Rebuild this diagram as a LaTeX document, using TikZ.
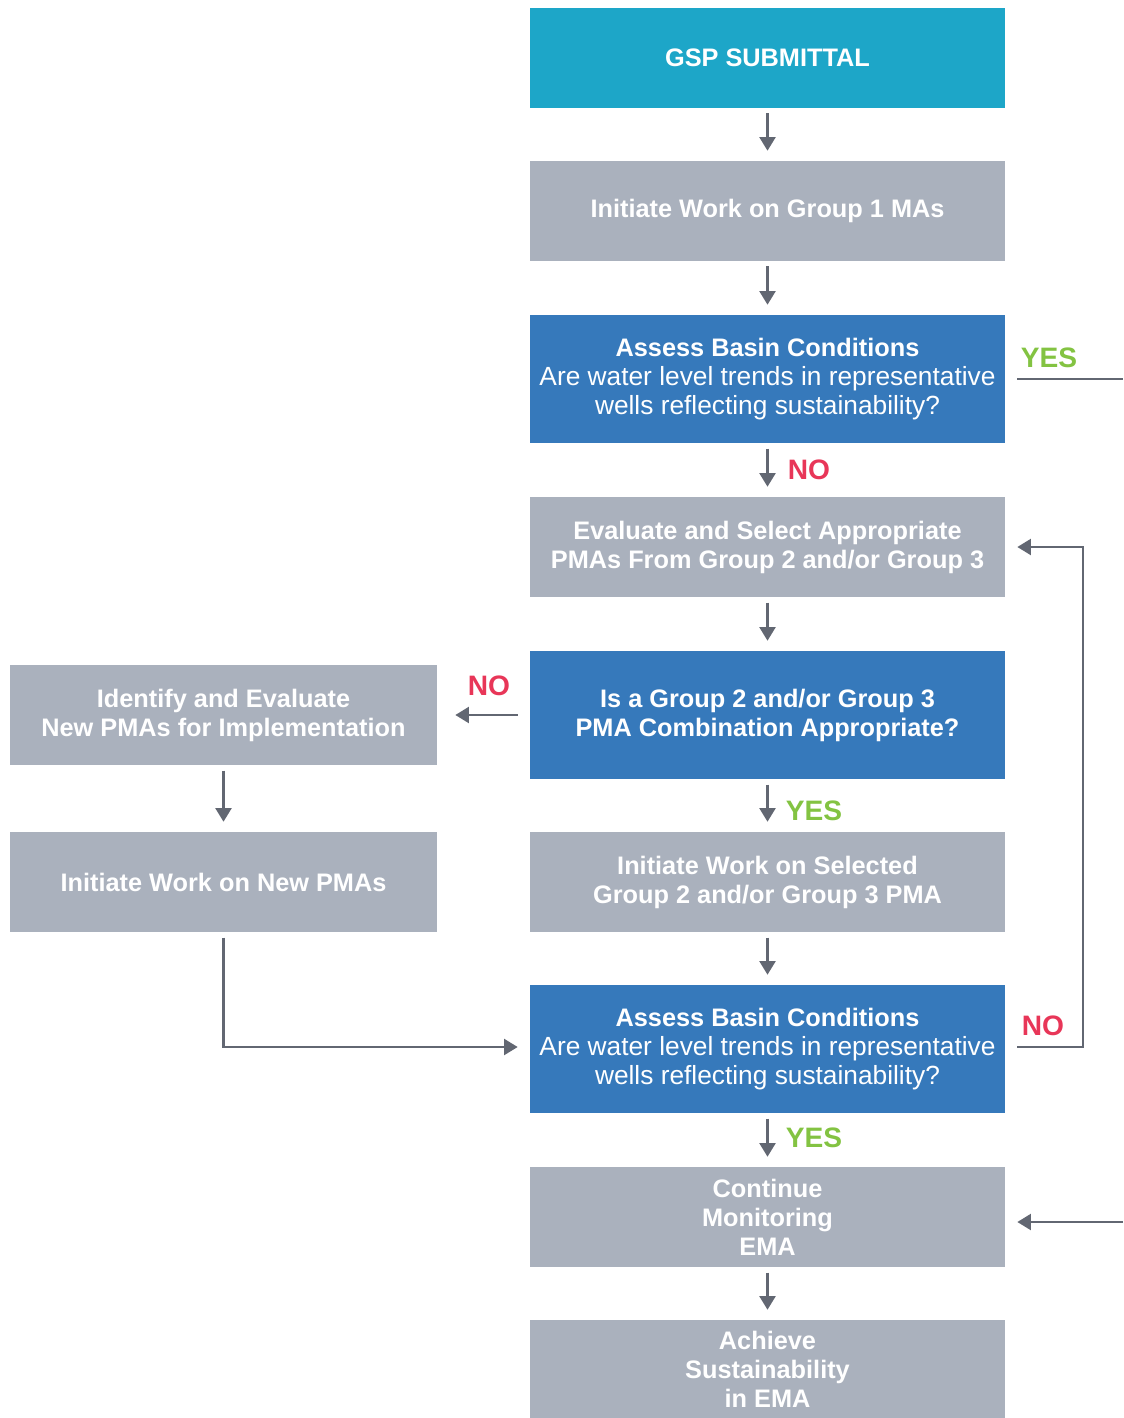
\documentclass[tikz,border=0pt]{standalone}
\usepackage{fontspec}
\setsansfont{Liberation Sans}
\usetikzlibrary{arrows.meta, positioning}
\definecolor{gspteal}{RGB}{29,166,200}
\definecolor{stepblue}{RGB}{54,121,187}
\definecolor{stepgray}{RGB}{170,177,189}
\definecolor{arrowgray}{RGB}{98,103,114}
\definecolor{nored}{RGB}{232,54,88}
\definecolor{yesgreen}{RGB}{131,195,66}

\begin{document}
\begin{tikzpicture}[x=0.025cm, y=-0.025cm,
  font=\sffamily\fontsize{18.7}{20.6}\selectfont,
  box/.style={draw=none, text=white, align=center, inner sep=2pt,
    minimum width=11.875cm, minimum height=2.5cm},
  sidebox/.style={box, fill=stepgray, minimum width=10.675cm, font=\sffamily\bfseries\fontsize{18}{20.6}\selectfont},
  graybox/.style={box, fill=stepgray, font=\sffamily\bfseries\fontsize{18}{20.6}\selectfont},
  bluebox/.style={box, fill=stepblue, minimum height=3.2cm},
  arr/.style={draw=arrowgray, line width=1.6pt, -{Triangle[width=0.4cm, length=0.34cm]},
    shorten <=0.13cm, shorten >=0.25cm},
  yeslbl/.style={text=yesgreen, font=\sffamily\bfseries\fontsize{20}{24}\selectfont},
  nolbl/.style={text=nored, font=\sffamily\bfseries\fontsize{20}{24}\selectfont}]

  \useasboundingbox (0,0) rectangle (1123,1418);

  % Main column
  \node[box, fill=gspteal, font=\sffamily\bfseries\fontsize{18}{20.6}\selectfont] (gsp) at (767.5,58) {GSP SUBMITTAL};
  \node[graybox] (grpone) at (767.5,211) {Initiate Work on Group 1 MAs};
  \node[bluebox] (assessone) at (767.5,379)
    {{\fontsize{18}{20.6}\selectfont\bfseries Assess Basin Conditions}\\Are water level trends in representative\\wells reflecting sustainability?};
  \node[graybox] (evaluate) at (767.5,547) {Evaluate and Select Appropriate\\PMAs From Group 2 and/or Group 3};
  \node[bluebox, font=\sffamily\bfseries\fontsize{18}{20.6}\selectfont] (combo) at (767.5,715)
    {Is a Group 2 and/or Group 3\\PMA Combination Appropriate?};
  \node[graybox] (selected) at (767.5,882) {Initiate Work on Selected\\Group 2 and/or Group 3 PMA};
  \node[bluebox] (assesstwo) at (767.5,1049)
    {{\fontsize{18}{20.6}\selectfont\bfseries Assess Basin Conditions}\\Are water level trends in representative\\wells reflecting sustainability?};
  \node[graybox] (monitor) at (767.5,1217) {Continue\\Monitoring\\EMA};
  \node[graybox, minimum height=2.45cm] (achieve) at (767.5,1369) {Achieve\\Sustainability\\in EMA};

  % Left column
  \node[sidebox] (identify) at (223.5,715) {Identify and Evaluate\\New PMAs for Implementation};
  \node[sidebox] (newpma) at (223.5,882) {Initiate Work on New PMAs};

  % Free ends at the right margin
  \coordinate (yesout) at (1123,379);
  \coordinate (emain) at (1123,1222);

  % Connectors
  \draw[arr] (gsp) -- (grpone);
  \draw[arr] (grpone) -- (assessone);
  \draw[arr] (assessone) -- (evaluate);
  \draw[arr] (evaluate) -- (combo);
  \draw[arr] (combo) -- (selected);
  \draw[arr] (selected) -- (assesstwo);
  \draw[arr] (assesstwo) -- (monitor);
  \draw[arr] (monitor) -- (achieve);
  \draw[arr, shorten <=0.3cm, shorten >=0.45cm] (combo) -- (identify);
  \draw[arr] (identify) -- (newpma);
  \draw[arr, shorten >=0.3cm] (newpma.south) |- ([yshift=0.05cm]assesstwo.west);
  \draw[arr, shorten <=0.3cm, shorten >=0.3cm] ([yshift=0.05cm]assesstwo.east) -- ++(78,0) |- (evaluate.east);
  \draw[draw=arrowgray, line width=1.6pt, shorten <=0.3cm] (assessone.east) -- (yesout);
  \draw[arr, shorten <=0pt, shorten >=0.3cm] (emain) -- (emain -| monitor.east);

  % Decision labels
  \node[yeslbl] at (1049,358) {YES};
  \node[nolbl] at (809,470) {NO};
  \node[nolbl] at (489,686) {NO};
  \node[yeslbl] at (814,811) {YES};
  \node[nolbl] at (1043,1026) {NO};
  \node[yeslbl] at (814,1138) {YES};

\end{tikzpicture}
\end{document}
